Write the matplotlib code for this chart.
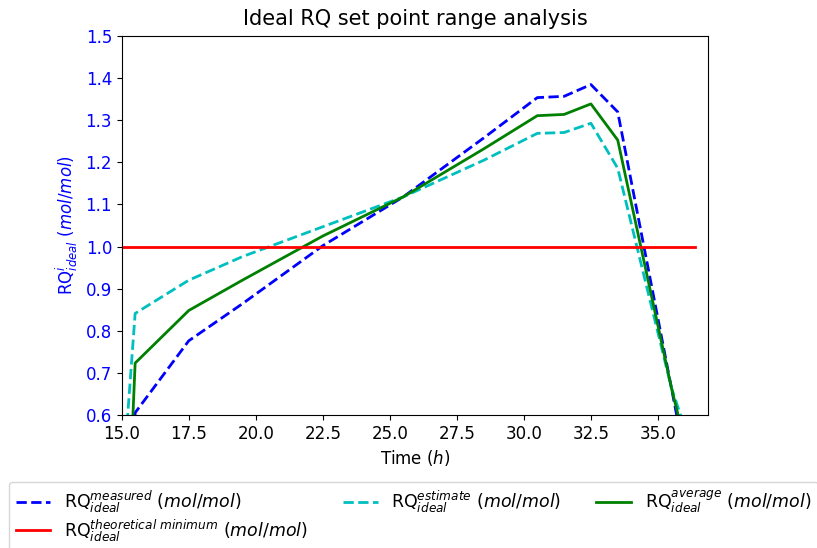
import matplotlib
matplotlib.use("Agg")
import matplotlib.pyplot as plt

# time points (h) and ideal RQ series
time_h = [15.2, 15.5, 17.5, 19.5, 22.5, 25.5, 28.5, 30.5, 31.5, 32.5, 33.5, 35.5, 36.0]
rq_measured = [-0.04, 0.605, 0.776, 0.864, 1.002, 1.118, 1.258, 1.354, 1.357, 1.385, 1.320, 0.665, 0.50]
rq_estimate = [0.58, 0.841, 0.920, 0.976, 1.047, 1.118, 1.205, 1.269, 1.271, 1.293, 1.186, 0.665, 0.57]
rq_average = [0.27, 0.723, 0.848, 0.920, 1.025, 1.118, 1.232, 1.311, 1.314, 1.339, 1.253, 0.665, 0.535]
rq_min_x = [15.0, 36.4]
rq_min = [1.0, 1.0]

fig = plt.figure(figsize=(8.17, 5.48), dpi=100)
ax = fig.add_axes([0.149, 0.243, 0.718, 0.691])

l_meas, = ax.plot(time_h, rq_measured, "b--", lw=2, label=r"RQ$^{measured}_{ideal}$ $(mol/mol)$")
l_est, = ax.plot(time_h, rq_estimate, "c--", lw=2, label=r"RQ$^{estimate}_{ideal}$ $(mol/mol)$")
l_avg, = ax.plot(time_h, rq_average, "g-", lw=2, label=r"RQ$^{average}_{ideal}$ $(mol/mol)$")
l_min, = ax.plot(rq_min_x, rq_min, "r-", lw=2, label=r"RQ$^{theoretical\ minimum}_{ideal}$ $(mol/mol)$")

ax.set_xlim(15.0, 36.88)
ax.set_ylim(0.6, 1.5)
ax.set_xticks([15.0, 17.5, 20.0, 22.5, 25.0, 27.5, 30.0, 32.5, 35.0])
ax.tick_params(labelsize=12)
ax.tick_params(axis="y", labelcolor="b")
ax.set_xlabel(r"Time $(h)$", fontsize=12)
ax.set_ylabel(r"RQ$^{i}_{ideal}$ $(mol/mol)$", color="b", fontsize=12)
ax.set_title("Ideal RQ set point range analysis", fontsize=15, pad=8)

# column-wise fill: measured/theoretical, estimate, average
handles = [l_meas, l_min, l_est, l_avg]
fig.legend(handles, [h.get_label() for h in handles], loc="upper left",
           bbox_to_anchor=(0.0, 0.137), ncol=3, fontsize=12.5, labelspacing=0.12)

fig.savefig("out.png", dpi=100)
